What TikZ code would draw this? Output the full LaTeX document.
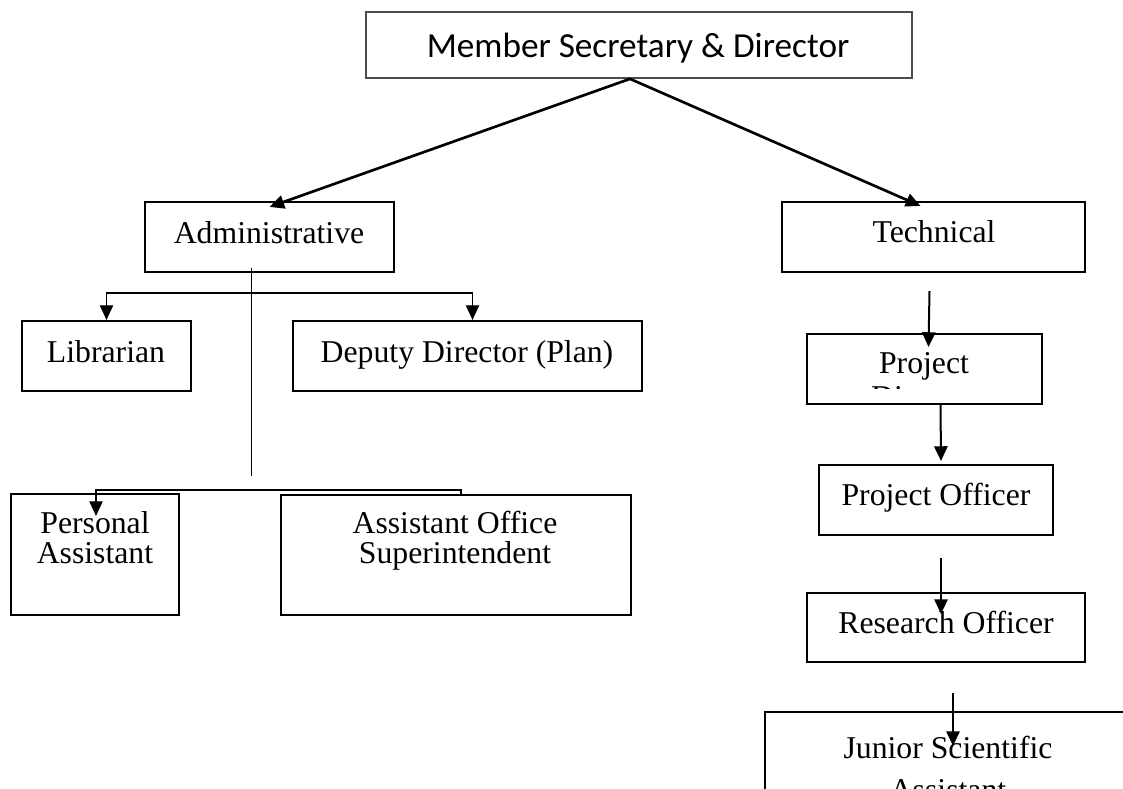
\documentclass[tikz,border=0pt]{standalone}
\usepackage{fontspec}
\setmainfont{Liberation Serif}
\newfontfamily\calibri{Carlito}
\usetikzlibrary{arrows.meta,calc,fit}

\begin{document}
\begin{tikzpicture}[x=0.75pt,y=-0.75pt,
    box/.style={draw, line width=1.6pt, inner sep=0pt},
    txt/.style={anchor=base, inner sep=0pt, font=\fontsize{23.8}{28}\selectfont},
    arr/.style={line width=1.5pt, -{Triangle[length=11pt,width=10pt]}},
    thinarr/.style={line width=1pt, -{Triangle[length=11pt,width=10pt]}},
    link/.style={line width=1pt}]
  \clip (0,0) rectangle (1123,788);
  % boxes
  \node[box, draw=black!70, line width=1.3pt, fit={(366,12) (912,78)}] (msd) {};
  \node[box, fit={(145,202) (394,272)}] (admin) {};
  \node[box, fit={(782,202) (1085,272)}] (tech) {};
  \node[box, fit={(22,321) (191,391)}] (lib) {};
  \node[box, fit={(293,321) (642,391)}] (dep) {};
  \node[box, fit={(11,494) (179,615)}] (pa) {};
  \node[box, fit={(281,495) (631,615)}] (aos) {};
  \node[box, fit={(807,334) (1042,404)}] (pd) {};
  \node[box, fit={(819,465) (1053,535)}] (po) {};
  \node[box, fit={(807,593) (1085,662)}] (ro) {};
  \node[box, fit={(765,712) (1135,820)}] (jsa) {};

  % texts
  \node[txt, font=\calibri\fontsize{26.4}{30}\selectfont] at (638,58) {Member Secretary \& Director};
  \node[txt] at (269,243) {Administrative};
  \node[txt] at (934,242) {Technical};
  \node[txt] at (106,362) {Librarian};
  \node[txt] at (467,362) {Deputy Director (Plan)};
  \node[txt] at (95,533) {Personal};
  \node[txt] at (95,563) {Assistant};
  \node[txt] at (455,533) {Assistant Office};
  \node[txt] at (455,563) {Superintendent};
  \node[txt] at (924,373) {Project};
  \begin{scope}
    \clip (807,334) rectangle (1042,388);
    \node[txt] at (924,407) {Director};
  \end{scope}
  \node[txt] at (936,505) {Project Officer};
  \node[txt] at (946,633) {Research Officer};
  \node[txt] at (948,758) {Junior Scientific};
  \node[txt] at (948,800) {Assistant};

  % connectors
  \coordinate (split) at ($(msd.south)+(-9,0)$);
  \draw[arr, line width=2pt] (split) -- ($(admin.north)+(0,6)$);
  \draw[arr, line width=2pt] (split) -- ($(tech.north)+(-13,5)$);

  \draw[link] ($(admin.south)+(-18,-5)$) -- ++(0,208);
  \coordinate (b1) at ($(admin.south)+(-18,20)$);
  \draw[thinarr] (b1) -| (lib.north);
  \draw[thinarr] (b1) -| ($(dep.north)+(5,0)$);
  \coordinate (b2) at ($(admin.south)+(-18,217)$);
  \draw[thinarr] (b2) -| ($(pa.north)+(1,23)$);
  \draw[link] (b2) -| ($(aos.north)+(5,0)$);

  \draw[arr] ($(tech.south)+(-4,18)$) -- ($(pd.north)+(4,14)$);
  \draw[arr] ($(pd.south)+(16,0)$) -- ($(po.north)+(5,-3)$);
  \draw[arr] ($(po.south)+(5,22)$) -- ($(ro.north)+(-5,22)$);
  \draw[arr] ($(ro.south)+(7,30)$) -- ($(jsa.north)+(3,35)$);
\end{tikzpicture}
\end{document}
